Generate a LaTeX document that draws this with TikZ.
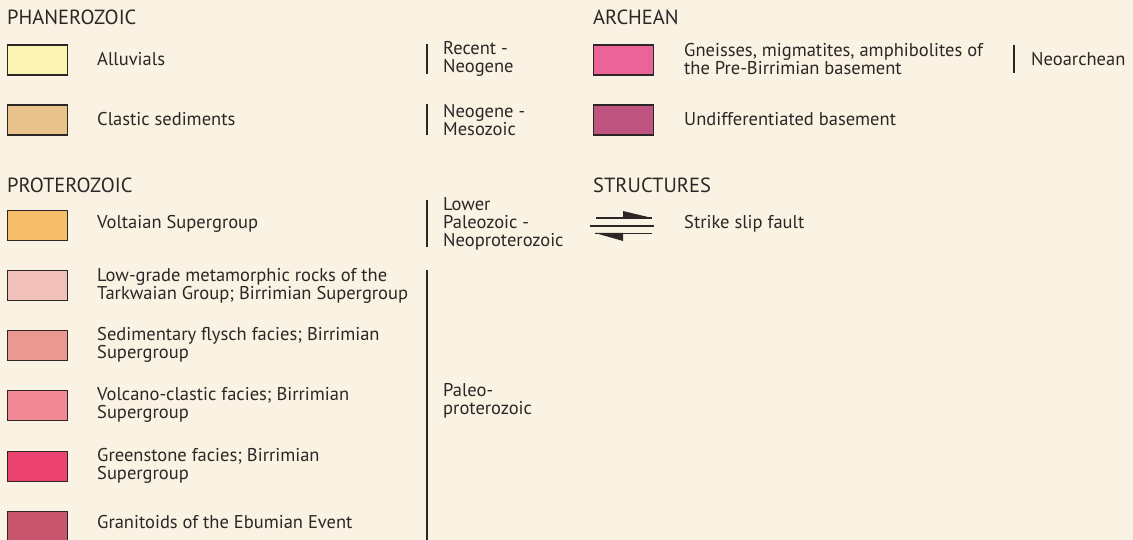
\documentclass[tikz,border=0pt]{standalone}
\usepackage{fontspec}
\setmainfont{PT Sans}
\usepackage{tikz}
\usetikzlibrary{positioning, calc}
\definecolor{paper}{RGB}{250,242,226}
\definecolor{ink}{RGB}{45,38,38}
\definecolor{alluv}{RGB}{250,243,178}
\definecolor{clastic}{RGB}{232,196,140}
\definecolor{voltaian}{RGB}{246,190,104}
\definecolor{tarkwa}{RGB}{242,192,186}
\definecolor{flysch}{RGB}{234,152,146}
\definecolor{volcano}{RGB}{240,136,150}
\definecolor{greenst}{RGB}{236,66,112}
\definecolor{granit}{RGB}{200,85,110}
\definecolor{gneiss}{RGB}{234,100,154}
\definecolor{basement}{RGB}{192,84,128}

\begin{document}
\begin{tikzpicture}[x=1pt, y=-1pt,
    swatch/.style={rectangle, draw=ink, line width=1.1pt, minimum width=60pt, minimum height=30pt, inner sep=0pt, anchor=north west},
    lbl/.style={anchor=west, align=left, inner sep=0pt, text=ink, font=\fontsize{18.5}{18}\selectfont},
    hdr/.style={anchor=west, inner sep=0pt, text=ink, font=\fontsize{20.5}{20}\selectfont},
    agebar/.style={draw=ink, line width=1.2pt},
]
    \fill[paper] (0,0) rectangle (1133,540);
    \useasboundingbox (0,0) rectangle (1133,540);

    % left column
    \node[hdr] (phan) at (7,17) {PHANEROZOIC};
    \node[swatch, fill=alluv] (s1) at (6.5,44.5) {};
    \node[lbl] (t1) at (97,59.5) {Alluvials};
    \node[swatch, fill=clastic] (s2) at (6.5,104.5) {};
    \node[lbl] (t2) at (97,119.5) {Clastic sediments};

    \node[hdr] (prot) at (7,185) {PROTEROZOIC};
    \node[swatch, fill=voltaian] (s3) at (6.5,210) {};
    \node[lbl] (t3) at (97,224) {Voltaian Supergroup};
    \node[swatch, fill=tarkwa] (s4) at (6.5,270) {};
    \node[lbl] (t4) at (97,286) {Low-grade metamorphic rocks of the\\Tarkwaian Group; Birrimian Supergroup};
    \node[swatch, fill=flysch] (s5) at (6.5,330) {};
    \node[lbl] (t5) at (97,345) {Sedimentary flysch facies; Birrimian\\Supergroup};
    \node[swatch, fill=volcano] (s6) at (6.5,390) {};
    \node[lbl] (t6) at (97,405) {Volcano-clastic facies; Birrimian\\Supergroup};
    \node[swatch, fill=greenst] (s7) at (6.5,450.5) {};
    \node[lbl] (t7) at (97,466) {Greenstone facies; Birrimian\\Supergroup};
    \node[swatch, fill=granit] (s8) at (6.5,511) {};
    \node[lbl] (t8) at (97,522) {Granitoids of the Ebumian Event};

    % ages
    \draw[agebar] (427,44) -- (427,74);
    \node[lbl] (a1) at (443,58.5) {Recent -\\Neogene};
    \draw[agebar] (427,104) -- (427,135);
    \node[lbl] (a2) at (443,120) {Neogene -\\Mesozoic};
    \draw[agebar] (427,200) -- (427,247);
    \node[lbl] (a3) at (443,223.5) {Lower\\Paleozoic -\\Neoproterozoic};
    \draw[agebar] (427,270) -- (427,540);
    \node[lbl] (a4) at (443,401) {Paleo-\\proterozoic};

    % right column
    \node[hdr] (arch) at (593,17) {ARCHEAN};
    \node[swatch, fill=gneiss] (s9) at (593,44.5) {};
    \node[lbl] (t9) at (684,59.5) {Gneisses, migmatites, amphibolites of\\the Pre-Birrimian basement};
    \draw[agebar] (1014,45) -- (1014,73);
    \node[lbl] (a5) at (1031,59.5) {Neoarchean};
    \node[swatch, fill=basement] (s10) at (593,104.5) {};
    \node[lbl] (t10) at (684,119.5) {Undifferentiated basement};

    \node[hdr] (struc) at (593,185) {STRUCTURES};
    \draw[ink, line width=1.3pt] (596,218) -- (652,218) (590,226) -- (654,226) (595,233.5) -- (652,233.5);
    \fill[ink] (623,211) -- (652,218) -- (623,218.5) -- cycle;
    \fill[ink] (595,233) -- (623,233) -- (623,241) -- cycle;
    \node[lbl] (t11) at (684,224) {Strike slip fault};
\end{tikzpicture}
\end{document}
